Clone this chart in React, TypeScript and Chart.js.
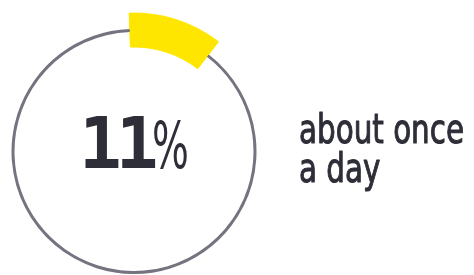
import React, { useEffect, useRef } from "react";
import { Chart, registerables } from "chart.js";

Chart.register(...registerables);

// ---- data ----
const categories = ["about once a day", "rest"];
const shareValues = [11, 89];
const valueLabel = "11";
const unitLabel = "%";
const sideLabelLines = ["about once", "a day"];

const YELLOW = "#FFE600";
const GRAY = "#747480";
const TEXT = "#2E2E38";
const CLEAR = "rgba(0,0,0,0)";

const textPlugin = {
  id: "centerAndSideText",
  afterDraw(chart: any) {
    const ctx = chart.ctx as CanvasRenderingContext2D;
    const area = chart.chartArea;
    const cx = (area.left + area.right) / 2;
    const cy = (area.top + area.bottom) / 2;
    ctx.save();
    ctx.fillStyle = TEXT;
    ctx.strokeStyle = TEXT;
    ctx.lineJoin = "round";
    ctx.textBaseline = "alphabetic";
    ctx.textAlign = "left";
    const baseY = cy + 16;
    // big value "11"
    ctx.font = 'bold 71px "DejaVu Sans Mono"';
    (ctx as any).letterSpacing = "-6px";
    const vx = cx - 55;
    ctx.fillText(valueLabel, vx, baseY);
    (ctx as any).letterSpacing = "0px";
    // unit "%", narrow
    ctx.font = '64px "DejaVu Sans Condensed", "DejaVu Sans"';
    const um = ctx.measureText(unitLabel);
    const uInk = um.actualBoundingBoxRight + um.actualBoundingBoxLeft;
    const uScale = 33 / uInk;
    ctx.save();
    ctx.translate(cx + 20, baseY);
    ctx.scale(uScale, 1);
    ctx.fillText(unitLabel, um.actualBoundingBoxLeft, 0);
    ctx.restore();
    // side label, condensed
    ctx.font = '41px "DejaVu Sans Condensed", "DejaVu Sans"';
    const w0 = ctx.measureText(sideLabelLines[0]).width;
    const sScale = 165 / w0;
    sideLabelLines.forEach((line, i) => {
      ctx.save();
      ctx.translate(299, 143 + i * 39);
      ctx.scale(sScale, 1);
      ctx.lineWidth = 1;
      ctx.fillText(line, 0, 0);
      ctx.strokeText(line, 0, 0);
      ctx.restore();
    });
    ctx.restore();
  },
};

export default function App() {
  const ref = useRef<HTMLCanvasElement | null>(null);
  useEffect(() => {
    if (!ref.current) return;
    const yellowBorder = [1, 0];
    const chart = new Chart(ref.current, {
      type: "doughnut",
      data: {
        labels: categories,
        datasets: [
          {
            data: shareValues,
            backgroundColor: [YELLOW, CLEAR],
            borderColor: [YELLOW, CLEAR],
            borderWidth: yellowBorder,
            weight: 16,
            clip: false,
          } as any,
          {
            data: shareValues,
            backgroundColor: [YELLOW, GRAY],
            borderColor: [YELLOW, GRAY],
            borderWidth: yellowBorder,
            weight: 3,
            clip: false,
          } as any,
          {
            data: shareValues,
            backgroundColor: [YELLOW, CLEAR],
            borderColor: [YELLOW, CLEAR],
            borderWidth: yellowBorder,
            weight: 15,
            clip: false,
          } as any,
        ],
      },
      options: {
        animation: false,
        responsive: false,
        radius: 138.5,
        cutout: "75.45%",
        rotation: -2,
        layout: { padding: { left: 0, right: 206, top: 28, bottom: 0 } },
        plugins: {
          legend: { display: false },
          tooltip: { enabled: false },
        },
        events: [],
      } as any,
      plugins: [textPlugin],
    });
    return () => chart.destroy();
  }, []);
  return (
    <div
      style={{
        position: "fixed",
        left: 0,
        top: 0,
        width: 474,
        height: 275,
        overflow: "hidden",
        background: "#fff",
      }}
    >
      <canvas ref={ref} width={474} height={275} style={{ display: "block" }} />
    </div>
  );
}
